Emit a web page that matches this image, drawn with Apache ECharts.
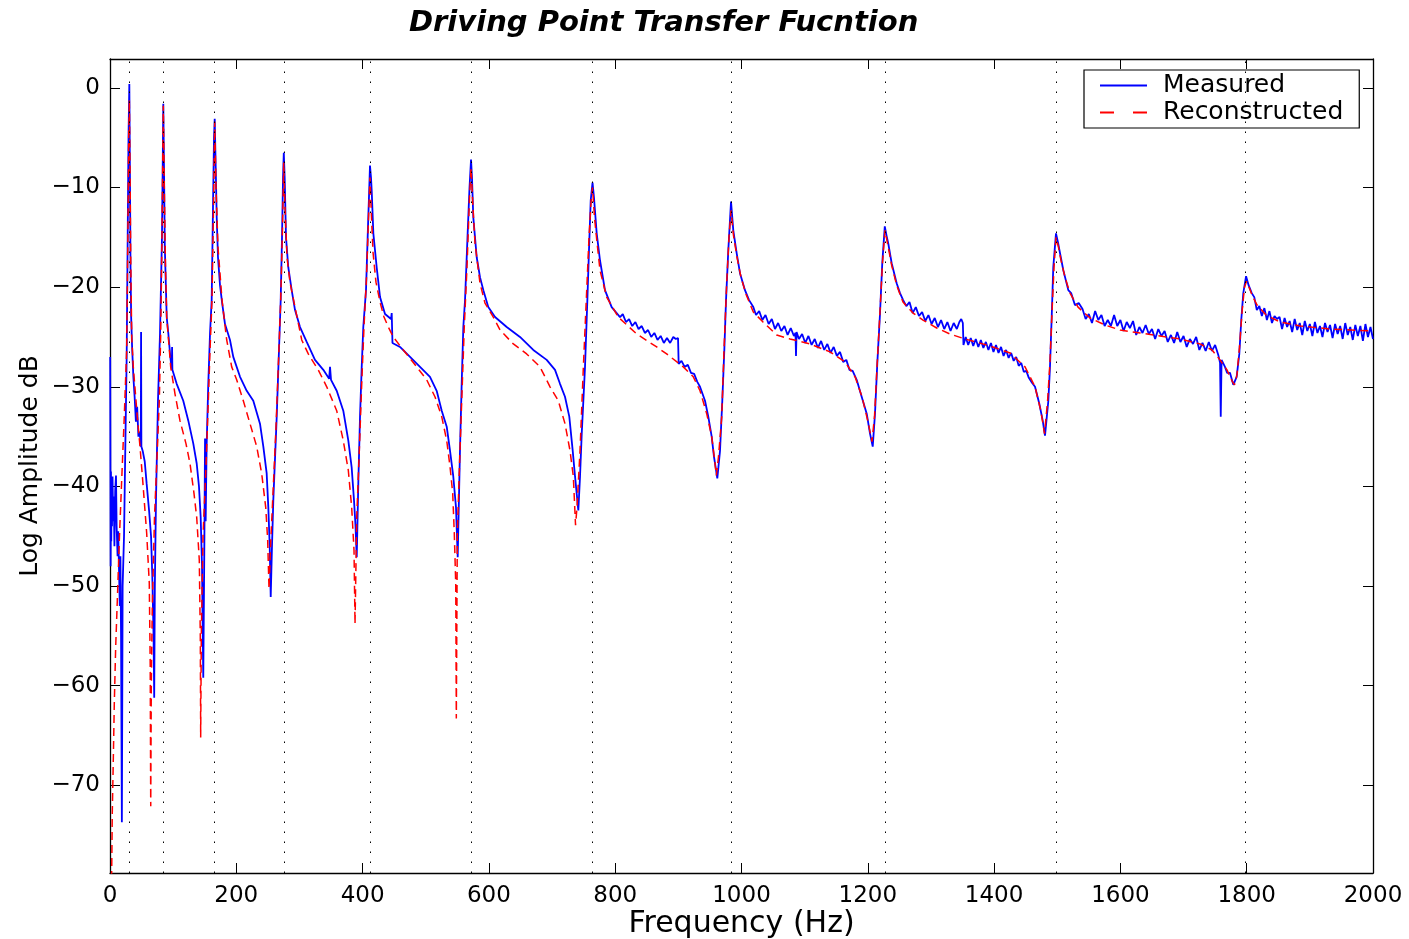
<!DOCTYPE html>
<html>
<head>
<meta charset="utf-8">
<script src="https://cdn.jsdelivr.net/npm/echarts@6/dist/echarts.min.js"></script>
<style>html,body{margin:0;padding:0;background:#fff}#c{width:1409px;height:939px}</style>
</head>
<body>
<div id="c"></div>
<script>
const xTicks = [0,200,400,600,800,1000,1200,1400,1600,1800,2000];
const yTicks = [-70,-60,-50,-40,-30,-20,-10,0];
const resonanceFreqs = [30.6,84.4,165.8,275.2,411.7,571.7,764.1,983.4,1226.9,1498,1797.3];

const measured = [
[0.3,-27.0],[1.0,-48.0],[1.5,-38.5],[2.0,-45.5],[2.6,-40.0],[3.2,-44.0],[4.0,-39.0],[5.0,-43.5],[6.0,-41.0],[7.0,-46.0],[8.2,-40.5],[9.5,-38.9],[10.5,-44.0],[12.0,-47.0],[13.0,-44.5],[14.5,-49.0],[15.5,-52.0],[16.5,-47.0],[17.5,-55.0],[18.8,-73.7],[20.0,-50.0],[22.2,-45.0],[24.5,-35.0],[26.4,-27.0],[28.0,-15.0],[29.3,-5.0],[30.6,0.4],
[31.5,-8.0],[32.5,-18.0],[33.5,-23.0],[35.0,-26.0],[37.0,-29.0],[39.0,-31.0],[41.0,-33.5],[43.0,-32.0],[45.0,-35.0],[47.0,-34.5],[48.8,-36.0],[49.2,-24.5],[49.7,-36.0],[52.0,-36.5],[55.0,-37.5],[58.0,-39.7],[62.0,-42.5],[65.0,-45.0],[67.0,-49.0],[69.0,-55.0],[70.0,-61.2],[71.0,-50.0],[72.8,-41.4],[76.0,-31.4],[79.2,-24.6],[82.3,-15.0],[83.6,-7.0],[84.4,-1.6],
[85.5,-8.0],[86.8,-16.0],[89.8,-23.0],[92.3,-24.6],[95.5,-27.0],[97.8,-28.3],[98.3,-26.0],[98.8,-28.3],[105.6,-29.7],[116.0,-31.4],[124.0,-33.4],[131.9,-35.7],[137.3,-37.7],[140.9,-40.0],[143.6,-43.1],[145.7,-48.0],[147.7,-59.2],[149.5,-45.0],[150.5,-35.2],[151.5,-43.5],[153.0,-36.0],[155.5,-30.0],[158.4,-24.6],[161.0,-21.3],[163.1,-12.0],[164.7,-5.0],[165.8,-3.1],
[167.4,-8.0],[169.0,-13.0],[171.0,-17.0],[174.2,-19.8],[177.4,-21.5],[182.1,-23.7],[190.0,-25.3],[195.2,-27.0],[205.9,-29.0],[216.5,-30.4],[226.9,-31.4],[237.5,-33.7],[242.8,-36.0],[248.1,-38.7],[250.7,-42.1],[252.9,-46.0],[254.5,-51.1],[256.5,-46.0],[258.6,-41.4],[264.0,-33.0],[267.6,-26.3],[270.3,-21.3],[272.4,-15.0],[274.0,-9.0],[275.2,-6.5],
[276.6,-9.0],[278.7,-15.0],[282.3,-18.0],[287.7,-20.3],[293.0,-22.3],[300.9,-24.0],[311.5,-25.5],[324.6,-27.3],[337.8,-28.3],[347.0,-29.2],[348.4,-28.0],[350.0,-29.3],[359.0,-30.4],[369.4,-32.4],[377.4,-35.4],[382.7,-38.1],[386.4,-41.4],[388.8,-44.0],[390.7,-47.1],[393.2,-39.7],[395.9,-33.0],[398.6,-28.0],[401.1,-24.0],[405.4,-20.3],[408.5,-14.0],[410.6,-10.0],[411.7,-7.8],
[413.3,-9.0],[414.4,-10.3],[417.0,-14.6],[422.3,-18.0],[427.6,-21.0],[435.5,-22.7],[445.0,-23.2],[446.1,-22.6],[447.3,-25.6],[459.2,-26.0],[475.1,-27.0],[490.9,-28.0],[506.7,-29.0],[517.3,-30.4],[525.3,-32.4],[533.2,-34.0],[538.4,-36.4],[543.6,-39.0],[547.9,-42.1],[550.6,-47.1],[552.3,-42.0],[554.2,-36.4],[556.9,-29.7],[559.5,-24.0],[562.2,-21.3],[566.1,-15.0],[569.3,-10.0],[571.7,-7.2],
[573.2,-9.0],[575.3,-13.0],[580.7,-17.0],[585.9,-19.0],[591.2,-20.3],[599.0,-22.0],[609.7,-23.0],[628.2,-24.0],[649.2,-25.0],[670.3,-26.3],[691.5,-27.3],[704.7,-28.3],[712.6,-29.7],[720.5,-31.0],[727.3,-33.0],[732.7,-36.4],[736.4,-39.0],[741.6,-42.4],[744.3,-39.0],[747.0,-34.7],[752.2,-28.0],[755.9,-21.3],[758.5,-16.3],[761.2,-11.3],[764.1,-9.5],
[766.4,-11.0],[770.7,-14.6],[775.9,-17.3],[783.8,-20.3],[794.4,-22.0],[807.6,-23.0],[812,-22.7],[817,-23.5],[822,-23.2],[827,-23.9],[832,-23.5],[837,-24.2],[842,-23.9],[847,-24.6],[852,-24.3],[857,-25.0],[862,-24.6],[867,-25.3],[872,-24.9],[877,-25.6],[882,-25.1],[887,-25.6],[892,-25.0],[896,-25.2],[899.5,-25.1],[900.5,-27.7],[905,-27.4],[910,-28.0],[915,-27.8],[920,-28.6],[925,-28.7],[930,-29.5],[934.3,-30.0],[942.2,-31.4],[947.4,-33.0],[952.8,-35.0],[956.4,-37.0],[961.7,-39.2],[966.0,-36.4],[969.6,-31.4],[972.8,-26.3],[975.5,-21.3],[979.1,-16.3],[983.4,-11.4],
[987.0,-14.3],[992.4,-16.6],[997.6,-18.6],[1005.5,-20.3],[1012,-21.3],[1018.7,-22.0],[1023,-22.8],[1028,-22.4],[1033,-23.3],[1038,-22.8],[1043,-23.7],[1048,-23.2],[1053,-24.2],[1058,-23.6],[1063,-24.4],[1068,-23.9],[1073,-24.8],[1078,-24.1],[1083,-24.9],[1085.5,-24.6],[1086.3,-26.9],[1087.2,-24.5],[1091,-25.2],[1096,-24.7],[1101,-25.6],[1106,-24.9],[1111,-25.8],[1116,-25.2],[1121,-26.1],[1126,-25.4],[1131,-26.3],[1136,-25.7],[1141,-26.6],[1146,-26.0],[1151,-26.9],[1156,-26.5],[1161,-27.5],[1166,-27.3],[1171,-28.3],[1176,-28.4],[1182.4,-29.3],[1190.3,-31.0],[1198.3,-32.7],[1203.5,-34.7],[1207.8,-36.0],[1211.4,-32.7],[1215.0,-27.7],[1219.3,-22.7],[1222.9,-17.6],[1226.9,-13.9],
[1229.6,-14.8],[1232.4,-15.6],[1237.8,-17.6],[1245.7,-19.6],[1251,-20.6],[1256,-21.3],[1261,-21.9],[1266,-21.5],[1271,-22.6],[1276,-22.0],[1281,-22.9],[1286,-22.5],[1291,-23.4],[1296,-22.8],[1301,-23.7],[1306,-23.1],[1311,-24.0],[1316,-23.3],[1321,-24.2],[1326,-23.5],[1331,-24.4],[1336,-23.6],[1341,-24.2],[1345,-23.5],[1348,-23.2],[1350.5,-23.6],[1351.5,-25.8],[1355,-25.0],[1359,-25.8],[1363,-25.1],[1367,-25.9],[1371,-25.2],[1375,-26.0],[1379,-25.3],[1383,-26.1],[1387,-25.5],[1391,-26.3],[1395,-25.6],[1399,-26.5],[1403,-25.8],[1407,-26.6],[1411,-26.0],[1415,-26.9],[1419,-26.3],[1423,-27.1],[1427,-26.6],[1431,-27.4],[1435,-27.0],[1439,-27.9],[1443,-27.6],[1447,-28.5],[1451,-28.4],[1455,-29.1],[1460,-29.6],[1464.8,-30.0],[1471.6,-31.7],[1477.0,-33.4],[1480.6,-34.9],[1485.9,-31.4],[1488.5,-28.0],[1491.2,-23.0],[1493.7,-18.0],[1498.0,-14.6],
[1501.2,-15.5],[1504.4,-16.6],[1509.6,-18.3],[1517.5,-20.3],[1522,-20.6],[1528,-21.8],[1534,-21.6],[1540,-22.2],[1545,-23.2],[1550,-22.7],[1555,-23.6],[1560,-22.4],[1565,-23.3],[1570,-22.8],[1575,-23.9],[1580,-23.3],[1585,-23.9],[1590,-22.8],[1595,-23.9],[1600,-23.3],[1605,-24.4],[1610,-23.5],[1615,-24.1],[1620,-23.4],[1625,-24.8],[1630,-24.0],[1635,-24.6],[1640,-23.8],[1645,-24.7],[1650,-24.2],[1655,-25.2],[1660,-24.2],[1665,-24.9],[1670,-24.4],[1675,-25.5],[1680,-24.8],[1685,-25.6],[1690,-24.5],[1695,-25.5],[1700,-24.9],[1705,-26.0],[1710,-25.2],[1715,-25.7],[1720,-25.0],[1725,-26.3],[1730,-25.6],[1735,-26.4],[1740,-25.5],[1745,-26.4],[1750,-25.8],[1755,-26.8],[1757.8,-27.6],[1758.9,-33.0],[1760.2,-27.3],[1765.6,-28.0],[1769,-28.6],[1773.5,-28.6],[1778.8,-29.8],[1784.1,-29.0],[1788.3,-26.7],[1791.4,-23.3],[1794.6,-20.6],[1799.0,-18.9],
[1803.0,-19.8],[1808.0,-20.6],[1812,-21.0],[1816,-22.3],[1820,-21.9],[1824,-22.9],[1828,-22.1],[1832,-23.3],[1836,-22.4],[1840,-23.6],[1844,-22.9],[1848,-23.2],[1852,-23.0],[1856,-24.2],[1860,-23.1],[1864,-24.0],[1868,-23.4],[1872,-24.5],[1876,-23.2],[1880,-24.3],[1884,-23.6],[1888,-24.8],[1892,-23.4],[1896,-24.4],[1900,-23.7],[1904,-24.9],[1908,-23.5],[1912,-24.6],[1916,-23.9],[1920,-25.0],[1924,-23.6],[1928,-24.5],[1932,-23.8],[1936,-25.1],[1940,-23.7],[1944,-24.7],[1948,-23.9],[1952,-25.2],[1956,-23.6],[1960,-24.8],[1964,-24.0],[1968,-25.3],[1972,-23.8],[1976,-24.9],[1980,-23.9],[1984,-25.4],[1988,-23.7],[1992,-25.0],[1996,-24.0],[2000,-25.2]
];

const reconstructed = [
[1.0,-82.0],[2.7,-78.5],[3.6,-72.8],[5.2,-67.5],[6.8,-61.8],[9.0,-56.1],[11.6,-51.4],[15.0,-45.0],[18.5,-39.4],[22.6,-33.0],[26.4,-26.3],[28.3,-15.0],[29.6,-5.0],[30.6,-1.2],
[31.7,-8.0],[32.8,-17.0],[34.4,-25.0],[36.9,-28.0],[43.2,-33.0],[47.5,-36.0],[51.8,-39.4],[58.1,-44.7],[62.2,-49.7],[63.7,-58.0],[64.5,-72.1],[65.4,-60.0],[67.0,-52.0],[70.5,-43.0],[74.9,-36.4],[78.1,-31.4],[80.3,-24.6],[82.3,-15.0],[84.4,-1.8],
[86.0,-10.0],[87.9,-18.0],[89.8,-23.0],[96.1,-28.0],[102.9,-30.7],[110.8,-33.4],[120.3,-35.7],[126.7,-37.7],[133.0,-40.7],[137.3,-43.1],[141.4,-47.4],[143.0,-55.0],[143.6,-65.2],[144.6,-55.0],[147.3,-45.0],[152.0,-38.0],[155.7,-31.4],[158.4,-26.3],[161.5,-21.3],[163.9,-12.0],[165.8,-3.4],
[167.9,-10.0],[171.0,-16.0],[177.4,-21.3],[184.8,-25.3],[192.7,-28.0],[200.6,-29.3],[211.1,-31.4],[221.7,-33.7],[232.3,-36.0],[240.2,-38.7],[246.6,-42.1],[249.7,-45.4],[251.8,-50.3],[254.2,-46.0],[258.6,-40.0],[262.9,-34.0],[266.5,-28.0],[270.3,-21.3],[273.2,-14.0],[275.1,-7.5],
[277.1,-12.0],[280.3,-17.0],[285.0,-19.5],[293.0,-22.0],[303.6,-25.3],[314.0,-26.7],[329.8,-28.3],[343.2,-30.0],[359.0,-32.4],[369.4,-35.4],[377.4,-38.4],[382.7,-42.1],[386.4,-46.4],[388.0,-53.8],[390.7,-43.1],[394.8,-36.4],[398.6,-29.7],[402.2,-24.0],[406.2,-19.0],[409.4,-13.0],[411.7,-9.0],
[414.1,-13.0],[416.5,-16.5],[421.2,-19.5],[427.6,-21.5],[433.9,-23.0],[440.7,-24.0],[448.6,-25.0],[464.4,-26.3],[485.7,-28.0],[501.5,-29.3],[514.6,-31.0],[525.3,-33.0],[533.2,-35.4],[538.4,-38.0],[542.7,-40.7],[545.2,-44.7],[547.5,-49.8],[548.4,-63.3],[550.0,-44.7],[554.2,-36.4],[557.9,-29.7],[561.0,-24.0],[565.3,-18.0],[569.3,-11.0],[571.7,-8.0],
[574.8,-12.0],[578.0,-15.6],[585.9,-19.6],[593.8,-21.6],[607.0,-23.0],[617.6,-24.3],[638.7,-25.7],[659.8,-26.7],[680.9,-28.0],[696.8,-30.0],[709.9,-31.4],[720.5,-33.7],[728.4,-36.4],[733.7,-39.0],[737.2,-43.9],[739.6,-42.0],[744.3,-36.4],[749.6,-28.0],[754.9,-20.3],[758.5,-15.0],[761.7,-11.5],[764.1,-10.0],
[767.2,-13.0],[771.2,-15.5],[775.9,-18.3],[786.5,-21.0],[804.9,-23.0],[834.0,-24.7],[865.7,-26.0],[881.5,-26.7],[907.8,-28.0],[923.7,-29.0],[934.3,-30.4],[944.9,-32.7],[952.8,-35.0],[958.1,-37.7],[960.1,-38.9],[963.6,-37.0],[968.7,-33.0],[972.3,-26.3],[976.3,-20.0],[980.2,-15.0],[983.4,-12.3],
[987.3,-14.8],[992.9,-17.0],[999.2,-19.0],[1007.1,-20.7],[1018.7,-22.5],[1034.1,-23.5],[1055.7,-24.8],[1076.8,-25.2],[1108.5,-25.7],[1140.2,-26.5],[1163.9,-27.5],[1179.8,-29.0],[1190.8,-31.0],[1200.3,-33.5],[1206.6,-35.5],[1210.6,-33.0],[1214.6,-28.0],[1219.3,-22.5],[1223.3,-17.5],[1227.2,-14.3],
[1231.2,-15.6],[1237.8,-17.8],[1245.7,-19.8],[1255.7,-21.5],[1271.6,-22.6],[1287.4,-23.3],[1309.1,-24.1],[1330.2,-24.7],[1353.9,-25.2],[1393.5,-25.9],[1425.2,-26.6],[1449.0,-28.0],[1464.8,-30.0],[1474.3,-32.5],[1479.8,-34.7],[1484.6,-31.5],[1488.5,-27.5],[1491.7,-22.5],[1494.9,-18.0],[1498.0,-15.0],
[1502.0,-16.0],[1505.9,-17.3],[1512.3,-19.0],[1520.2,-20.6],[1532.9,-22.0],[1551.9,-23.1],[1575.7,-23.8],[1599.4,-24.3],[1631.1,-24.6],[1662.7,-24.9],[1694.4,-25.2],[1726.1,-25.7],[1745.1,-26.3],[1757.7,-27.3],[1768.8,-28.3],[1776.7,-29.4],[1780.7,-29.8],[1784.6,-28.8],[1788.6,-26.0],[1792.6,-22.5],[1796.5,-20.0],[1799.7,-19.4],
[1803.7,-20.0],[1808.5,-20.8],[1816.4,-21.8],[1830.7,-22.8],[1852.9,-23.5],[1884.5,-23.9],[1932.1,-24.2],[2000.0,-24.4]
];

const FONT = '"DejaVu Sans", Verdana, sans-serif';
const chart = echarts.init(document.getElementById('c'), null, {renderer: 'canvas'});
const axisLineStyle = {show: true, onZero: false, lineStyle: {color: '#000', width: 1.3}};
const tickStyle = (vals) => ({show: true, inside: true, length: 10, customValues: vals, lineStyle: {color: '#000', width: 1}});
chart.setOption({
  animation: false,
  backgroundColor: '#fff',
  title: {
    text: 'Driving Point Transfer Fucntion',
    left: 404, top: 4,
    textStyle: {fontFamily: FONT, fontSize: 29, fontWeight: 'bold', fontStyle: 'italic', color: '#000'}
  },
  legend: {
    data: [
      {name: 'Measured', icon: 'path://M0,0H47V2H0Z'},
      {name: 'Reconstructed', icon: 'path://M0,0H14V2H0ZM33,0H47V2H33Z'}
    ],
    orient: 'vertical',
    left: 1084, top: 70,
    backgroundColor: '#fff',
    borderColor: '#000', borderWidth: 1.2, borderRadius: 0,
    padding: [3, 16, 3, 16],
    itemGap: 2,
    itemWidth: 47, itemHeight: 2,
    itemStyle: {borderWidth: 0},
    textStyle: {fontFamily: FONT, fontSize: 25, color: '#000', padding: [0, 0, 0, 11]}
  },
  grid: {left: 110, right: 36, top: 59, bottom: 66, containLabel: false, outerBoundsMode: 'none'},
  xAxis: [
    {
      type: 'value', min: 0, max: 2000, interval: 200, position: 'bottom',
      axisLine: axisLineStyle, splitLine: {show: false},
      name: 'Frequency (Hz)', nameLocation: 'middle', nameGap: 36, nameMoveOverlap: false,
      nameTextStyle: {fontFamily: FONT, fontSize: 30, color: '#000'},
      axisLabel: {fontFamily: FONT, fontSize: 23, color: '#000', margin: 12, customValues: xTicks, formatter: v => String(v)},
      axisTick: tickStyle(xTicks)
    },
    {
      type: 'value', min: 0, max: 2000, interval: 200, position: 'top',
      axisLine: axisLineStyle, splitLine: {show: false},
      axisLabel: {show: false},
      axisTick: tickStyle(xTicks)
    }
  ],
  yAxis: [
    {
      type: 'value', min: -78.8, max: 2.9, position: 'left',
      axisLine: axisLineStyle, splitLine: {show: false},
      name: 'Log Amplitude dB', nameLocation: 'middle', nameGap: 67, nameRotate: 90, nameMoveOverlap: false,
      nameTextStyle: {fontFamily: FONT, fontSize: 25, color: '#000'},
      axisLabel: {fontFamily: FONT, fontSize: 23, color: '#000', margin: 10, customValues: yTicks,
        formatter: v => String(v).replace('-', '\u2212')},
      axisTick: tickStyle(yTicks)
    },
    {
      type: 'value', min: -78.8, max: 2.9, position: 'right',
      axisLine: axisLineStyle, splitLine: {show: false},
      axisLabel: {show: false, customValues: yTicks},
      axisTick: tickStyle(yTicks)
    }
  ],
  series: [
    {
      name: 'resonances', type: 'line', data: [], silent: true, z: 1,
      markLine: {
        silent: true, symbol: ['none', 'none'], animation: false,
        label: {show: false},
        lineStyle: {color: '#000', width: 1, type: [1.5, 8.5]},
        data: resonanceFreqs.map(f => ({xAxis: f}))
      }
    },
    {
      name: 'Measured', type: 'line', data: measured, showSymbol: false, symbol: 'none',
      lineStyle: {color: '#0000ff', width: 1.8}, itemStyle: {color: '#0000ff'}, z: 3, clip: true
    },
    {
      name: 'Reconstructed', type: 'line', data: reconstructed, showSymbol: false, symbol: 'none',
      lineStyle: {color: '#ff0000', width: 1.5, type: [8, 5]}, itemStyle: {color: '#ff0000'}, z: 4, clip: true
    }
  ]
});
</script>
</body>
</html>
